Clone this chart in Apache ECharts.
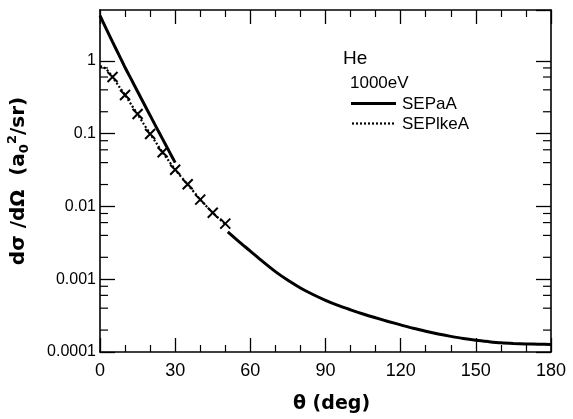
<!DOCTYPE html>
<html>
<head>
<meta charset="utf-8">
<script src="https://cdn.jsdelivr.net/npm/echarts@6/dist/echarts.min.js"></script>
<style>
  html, body { margin: 0; padding: 0; background: #fff; }
  #chart { width: 573px; height: 419px; }
</style>
</head>
<body>
<div id="chart"></div>
<script>
// Angular grid (deg) and tick labels
const xTickLabels = ['0', '30', '60', '90', '120', '150', '180'];
const yTickLabels = ['0.0001', '0.001', '0.01', '0.1', '1'];
const yMinorTicks = [
  2e-4, 4e-4, 6e-4, 8e-4,
  2e-3, 4e-3, 6e-3, 8e-3,
  2e-2, 4e-2, 6e-2, 8e-2,
  0.2, 0.4, 0.6, 0.8
];

// SEPaA (solid): small-angle branch, gap, large-angle branch
const thetaA = [0, 2.5, 5, 7.5, 10, 12.5, 15, 17.5, 20, 22.5, 25, 27.5, 30,
  40,
  51, 55, 60, 65, 70, 75, 80, 85, 90, 95, 100, 105, 110, 115, 120, 125,
  130, 135, 140, 145, 150, 155, 160, 165, 170, 175, 180];
const sepaA = [4.2, 2.75, 1.82, 1.22, 0.81, 0.556, 0.38, 0.26, 0.178, 0.122, 0.084, 0.058, 0.040,
  null,
  0.00447, 0.00339, 0.00243, 0.00174, 0.00127, 0.000966, 0.000759, 0.000617, 0.000513, 0.000437,
  0.00038, 0.000333, 0.000295, 0.000263, 0.000236, 0.000212, 0.000193, 0.000177, 0.000164,
  0.000153, 0.000145, 0.000139, 0.000134, 0.000131, 0.000129, 0.000128, 0.000127];

// SEPlkeA (dotted)
const thetaB = [0, 1, 2.5, 5, 7.5, 10, 12.5, 15, 17.5, 20, 22.5, 25, 27.5, 30, 35, 40, 45, 50];
const seplkeA = [0.84, 0.83, 0.77, 0.60, 0.45, 0.34, 0.25, 0.185, 0.135, 0.10, 0.074, 0.055,
  0.042, 0.032, 0.020, 0.0125, 0.0082, 0.0057];

// Measured points (crosses)
const thetaX = [5, 10, 15, 20, 25, 30, 35, 40, 45, 50];
const measX = [0.60, 0.34, 0.186, 0.099, 0.0555, 0.032, 0.0202, 0.0124, 0.0082, 0.0058];

const pairs = (xs, ys) => xs.map((x, i) => [x, ys[i] == null ? '-' : ys[i]]);

const LABEL_FONT = '"Liberation Sans", Arial, sans-serif';
const TITLE_FONT = '"DejaVu Sans", "Liberation Sans", sans-serif';
const NARROW_FONT = '"Liberation Sans Narrow", "Arial Narrow", "Liberation Sans", sans-serif';

const isDecade = v => Math.abs(Math.log10(v) - Math.round(Math.log10(v))) < 1e-6;

const axisLine = { show: true, onZero: false, lineStyle: { color: '#000', width: 1.6 } };

const xCommon = {
  type: 'value', min: 0, max: 180, interval: 30,
  axisLine: axisLine,
  axisTick: { show: true, inside: true, length: 14, lineStyle: { color: '#000', width: 1.3 } },
  minorTick: { show: true, splitNumber: 3, length: 7, lineStyle: { color: '#000', width: 1.2 } },
  splitLine: { show: false }
};
const yCommon = {
  type: 'log', logBase: 10, min: 0.0001, max: 5,
  axisLine: axisLine,
  axisTick: { show: true, inside: true, length: 15, lineStyle: { color: '#000', width: 1.3 } },
  minorTick: { show: false },
  splitLine: { show: false }
};

const option = {
  animation: false,
  backgroundColor: '#fff',
  grid: { left: 100, right: 22, top: 10, bottom: 67, containLabel: false, outerBoundsMode: 'none' },
  xAxis: [
    Object.assign({}, xCommon, {
      position: 'bottom',
      name: 'θ (deg)',
      nameLocation: 'middle',
      nameGap: 43,
      nameTextStyle: { color: '#000', fontSize: 19, fontWeight: 'bold', fontFamily: TITLE_FONT, padding: [0, 0, 0, 12] },
      axisLabel: {
        color: '#000', fontSize: 18, fontFamily: LABEL_FONT, margin: 10,
        formatter: v => xTickLabels[Math.round(v / 30)]
      }
    }),
    Object.assign({}, xCommon, { position: 'top', axisLabel: { show: false } })
  ],
  yAxis: [
    Object.assign({}, yCommon, {
      position: 'left',
      name: '{t|dσ /dΩ  (a}{sub|0}{sup|2}{t|/sr)}',
      nameLocation: 'middle',
      nameRotate: 90,
      nameGap: 66,
      nameTextStyle: {
        color: '#000', fontFamily: TITLE_FONT,
        rich: {
          t: { fontSize: 20, fontWeight: 'bold', fontFamily: TITLE_FONT, color: '#000', lineHeight: 30, verticalAlign: 'middle' },
          sub: { fontSize: 13, fontWeight: 'bold', fontFamily: TITLE_FONT, color: '#000', lineHeight: 30, verticalAlign: 'bottom', padding: [0, 0, 3, 0] },
          sup: { fontSize: 13, fontWeight: 'bold', fontFamily: TITLE_FONT, color: '#000', lineHeight: 30, verticalAlign: 'top', padding: [2, 0, 0, 0] }
        }
      },
      axisLabel: {
        color: '#000', fontSize: 16, fontFamily: NARROW_FONT, margin: 4,
        showMaxLabel: false,
        formatter: v => isDecade(v) ? yTickLabels[Math.round(Math.log10(v)) + 4] : ''
      }
    }),
    Object.assign({}, yCommon, { position: 'right', axisLabel: { show: false } })
  ],
  graphic: [
    { type: 'text', left: 343, top: 49, style: { text: 'He', fontSize: 19, fontFamily: LABEL_FONT, fill: '#000' } },
    { type: 'text', left: 350, top: 75, style: { text: '1000eV', fontSize: 17, fontFamily: LABEL_FONT, fill: '#000' } },
    // key entries
    { type: 'line', shape: { x1: 351, y1: 103.5, x2: 396, y2: 103.5 }, style: { stroke: '#000', lineWidth: 3 } },
    { type: 'text', x: 402, y: 104, style: { text: 'SEPaA', fontSize: 17, fontFamily: LABEL_FONT, fill: '#000', verticalAlign: 'middle' } },
    { type: 'line', shape: { x1: 352, y1: 123.5, x2: 394, y2: 123.5 }, style: { stroke: '#000', lineWidth: 2.2, lineDash: [2, 2] } },
    { type: 'text', x: 402, y: 124, style: { text: 'SEPlkeA', fontSize: 17, fontFamily: LABEL_FONT, fill: '#000', verticalAlign: 'middle' } }
  ],
  series: [
    {
      name: 'SEPaA', type: 'line', xAxisIndex: 0, yAxisIndex: 0,
      data: pairs(thetaA, sepaA),
      showSymbol: false, symbol: 'none', smooth: 0.3, connectNulls: false,
      lineStyle: { color: '#000', width: 3 }, itemStyle: { color: '#000' }, z: 3
    },
    {
      name: 'SEPlkeA', type: 'line', xAxisIndex: 0, yAxisIndex: 0,
      data: pairs(thetaB, seplkeA),
      showSymbol: false, symbol: 'none', smooth: 0.3,
      lineStyle: { color: '#000', width: 2.2, type: [2, 2] }, itemStyle: { color: '#000' }, z: 3
    },
    {
      name: 'measured', type: 'scatter', xAxisIndex: 0, yAxisIndex: 0,
      data: pairs(thetaX, measX),
      symbol: 'path://M0,0L10,10M10,0L0,10', symbolSize: 10,
      itemStyle: { color: '#000', borderColor: '#000', borderWidth: 2, opacity: 1 }, z: 4
    },
    {
      // minor ticks at 2,4,6,8 within each decade, on both y sides
      name: 'yminor', type: 'custom', xAxisIndex: 0, yAxisIndex: 0,
      data: yMinorTicks.map(v => [0, v]),
      silent: true, clip: false,
      renderItem: (params, api) => {
        const v = api.value(1);
        const a = api.coord([0, v]);
        const b = api.coord([180, v]);
        const st = { stroke: '#000', lineWidth: 1.2 };
        return {
          type: 'group',
          children: [
            { type: 'line', shape: { x1: a[0], y1: a[1], x2: a[0] + 8, y2: a[1] }, style: st },
            { type: 'line', shape: { x1: b[0] - 8, y1: b[1], x2: b[0], y2: b[1] }, style: st }
          ]
        };
      }
    }
  ]
};

echarts.init(document.getElementById('chart'), null, { renderer: 'canvas' }).setOption(option);
</script>
</body>
</html>
